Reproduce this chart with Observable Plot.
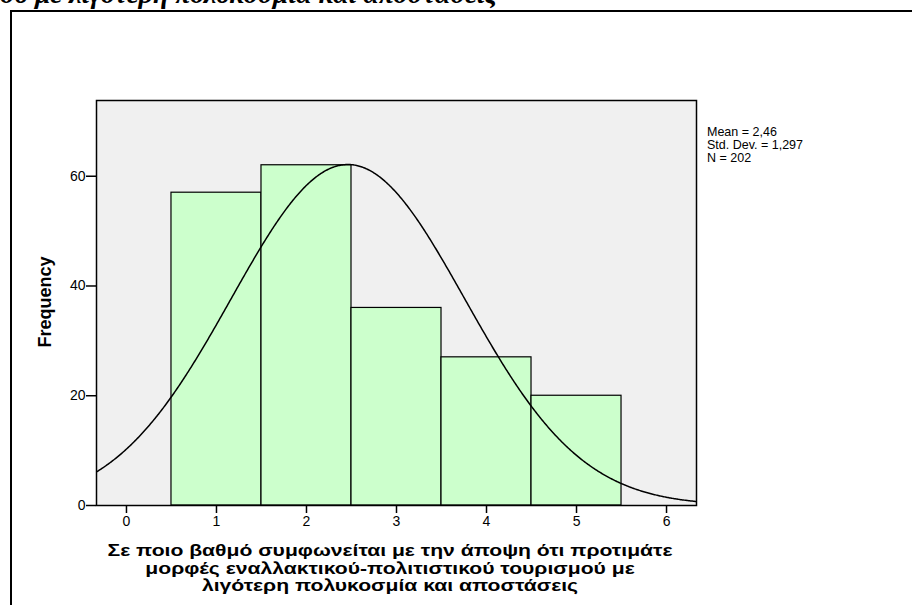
<!DOCTYPE html>
<html>
<head>
<meta charset="utf-8">
<script src="https://cdn.jsdelivr.net/npm/d3@7"></script>
<script src="https://cdn.jsdelivr.net/npm/@observablehq/plot@0.6"></script>
<style>
  html, body { margin: 0; padding: 0; background: #fff; }
  #page { position: relative; width: 912px; height: 605px; overflow: hidden; background: #fff; font-family: "Liberation Sans", Arial, sans-serif; }
  #outer { position: absolute; left: 10px; top: 10px; width: 960px; height: 700px; border-top: 2px solid #000; border-left: 2px solid #000; }
  #title { position: absolute; right: 415px; top: -20px; font-family: "Liberation Serif", "Times New Roman", serif; font-weight: bold; font-style: italic; font-size: 28px; line-height: 28px; white-space: nowrap; color: #000; }
  #chart { position: absolute; left: 0; top: 0; }
  #stats { position: absolute; left: 707px; top: 125px; font-size: 12.5px; line-height: 12px; color: #000; white-space: nowrap; transform-origin: 0 0; transform: scaleY(1.08); }
  #ylab { position: absolute; left: 45px; top: 302px; transform: translate(-50%, -50%) rotate(-90deg); font-weight: bold; font-size: 18px; white-space: nowrap; color: #000; }
  #xlab { position: absolute; left: 390px; top: 542px; transform: translateX(-50%) scaleX(1.32); font-weight: bold; font-size: 16px; line-height: 17.5px; text-align: center; white-space: nowrap; color: #000; }
</style>
</head>
<body>
<div id="page">
  <div id="outer"></div>
  <div id="title"></div>
  <div id="chart"></div>
  <div id="stats"></div>
  <div id="ylab"></div>
  <div id="xlab"></div>
</div>
<script>
// ---- data ----
const categories = [1, 2, 3, 4, 5];
const frequencies = [57, 62, 36, 27, 20];
const xTicks = [0, 1, 2, 3, 4, 5, 6];
const yTicks = [0, 20, 40, 60];
const statMean = 2.46;
const statSD = 1.297;
const statN = 202;
const statLines = ["Mean = 2,46", "Std. Dev. = 1,297", "N = 202"];
const titleLine = "τουρισμού με λιγότερη πολυκοσμία και αποστάσεις";
const yTitle = "Frequency";
const xTitleLines = [
  "Σε ποιο βαθμό συμφωνείται με την άποψη ότι προτιμάτε",
  "μορφές εναλλακτικού-πολιτιστικού τουρισμού με",
  "λιγότερη πολυκοσμία και αποστάσεις"
];

// ---- texts ----
document.getElementById("title").textContent = titleLine;
document.getElementById("stats").innerHTML = statLines.map(s => `<div>${s}</div>`).join("");
document.getElementById("ylab").textContent = yTitle;
document.getElementById("xlab").innerHTML = xTitleLines.map(s => `<div>${s}</div>`).join("");

// ---- table ----
const bars = categories.map((c, i) => ({x1: c - 0.5, x2: c + 0.5, y: frequencies[i]}));
const xDomain = [-0.333, 6.333];
// fitted normal curve from the chart's own statistics (N * binwidth * pdf)
const curve = d3.range(xDomain[0], xDomain[1] + 0.001, 0.01).map(x => ({
  x,
  y: statN * 1 * Math.exp(-((x - statMean) ** 2) / (2 * statSD * statSD)) / (statSD * Math.sqrt(2 * Math.PI))
}));

const chart = Plot.plot({
  width: 912,
  height: 605,
  marginLeft: 96,
  marginRight: 216,
  marginTop: 100,
  marginBottom: 100,
  style: {fontFamily: "'Liberation Sans', Arial, sans-serif", fontSize: "14px", color: "#000", background: "transparent"},
  x: {domain: xDomain},
  y: {domain: [0, 73.8]},
  marks: [
    Plot.frame({fill: "#f0f0f0"}),
    Plot.rectY(bars, {x1: "x1", x2: "x2", y: "y", fill: "#ccffcc", stroke: "#000", strokeWidth: 1.2}),
    Plot.line(curve, {x: "x", y: "y", stroke: "#000", strokeWidth: 1.5, clip: true}),
    Plot.frame({stroke: "#000", strokeWidth: 1.5}),
    Plot.axisY({ticks: yTicks, tickSize: 10, tickPadding: 1, strokeWidth: 1.5, label: null, tickFormat: d => d}),
    Plot.axisX({ticks: xTicks, tickSize: 8, tickPadding: 3, strokeWidth: 1.5, label: null, tickFormat: d => d})
  ]
});
document.getElementById("chart").appendChild(chart);
</script>
</body>
</html>
